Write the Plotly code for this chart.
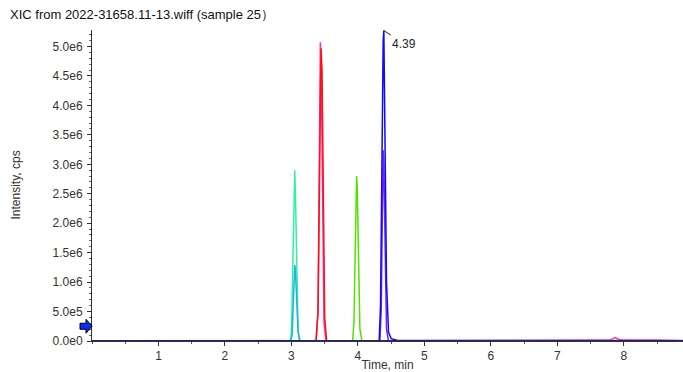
import plotly.graph_objects as go

title_text = "XIC from 2022-31658.11-13.wiff (sample 25）"

# Series: retention time (min) and intensity (cps)
yellow_t = [0.0, 1.0, 2.0, 2.9, 3.0]
yellow_i = [5000, 8000, 10000, 9000, 0]

spring_t = [0.0, 2.98, 3.00, 3.02, 3.04, 3.05, 3.06, 3.08, 3.10, 3.12, 8.89]
spring_i = [0, 0, 0.15e6, 1.2e6, 2.6e6, 2.9e6, 2.5e6, 1.0e6, 0.2e6, 0, 0]

sky_t = [0.0, 2.99, 3.01, 3.03, 3.05, 3.06, 3.08, 3.10, 3.13, 8.89]
sky_i = [0, 0, 0.1e6, 0.7e6, 1.29e6, 1.2e6, 0.6e6, 0.15e6, 0, 0]

pink_t = [0.0, 3.37, 3.40, 3.42, 3.435, 3.45, 3.47, 3.49, 3.52, 7.0, 7.80, 7.85, 7.87, 7.91, 7.97, 8.5, 8.89]
pink_i = [0, 0, 0.5e6, 3.3e6, 5.07e6, 4.5e6, 1.8e6, 0.3e6, 0, 8000, 15000, 50000, 60000, 35000, 18000, 15000, 10000]

red_t = [0.0, 3.37, 3.40, 3.43, 3.445, 3.46, 3.48, 3.50, 3.53, 8.89]
red_i = [0, 0, 0.5e6, 3.2e6, 4.97e6, 4.6e6, 2.0e6, 0.4e6, 0, 0]

green_t = [0.0, 3.92, 3.94, 3.96, 3.98, 3.99, 4.01, 4.03, 4.06, 8.89]
green_i = [0, 0, 0.3e6, 1.8e6, 2.8e6, 2.6e6, 1.2e6, 0.2e6, 0, 0]

blue_t = [0.0, 4.32, 4.34, 4.36, 4.38, 4.39, 4.41, 4.43, 4.46, 4.50, 4.60, 8.89]
blue_i = [0, 0, 0.6e6, 3.5e6, 5.1e6, 5.27e6, 3.6e6, 1.0e6, 0.15e6, 0.04e6, 0.01e6, 0.005e6]

purple_t = [0.0, 4.33, 4.35, 4.37, 4.38, 4.39, 4.41, 4.43, 4.46, 8.89]
purple_i = [0, 0, 0.5e6, 2.5e6, 3.24e6, 3.0e6, 1.2e6, 0.2e6, 0, 0]

navy_t = [0.0, 8.89]
navy_i = [0, 0]

y_tickvals = [0, 0.5e6, 1.0e6, 1.5e6, 2.0e6, 2.5e6, 3.0e6, 3.5e6, 4.0e6, 4.5e6, 5.0e6]
y_ticktext = ["0.0e0", "5.0e5", "1.0e6", "1.5e6", "2.0e6", "2.5e6", "3.0e6", "3.5e6", "4.0e6", "4.5e6", "5.0e6"]
x_tickvals = [1, 2, 3, 4, 5, 6, 7, 8]

peak_label_t = 4.39
peak_label_i = 5.27e6
marker_level = 0.25e6

series = [
    (yellow_t, yellow_i, "#e8c020"),
    (spring_t, spring_i, "#33f0a0"),
    (sky_t, sky_i, "#18b4e8"),
    (pink_t, pink_i, "#ff30c0"),
    (red_t, red_i, "#ff1010"),
    (green_t, green_i, "#55e000"),
    (purple_t, purple_i, "#7a20ff"),
    (blue_t, blue_i, "#0a0aff"),
    (navy_t, navy_i, "#1a2478"),
]

fig = go.Figure()
for t, i, c in series:
    fig.add_trace(go.Scatter(x=t, y=i, mode="lines",
                             line=dict(color=c, width=1.5 if c != "#1a2478" else 2.2),
                             showlegend=False, hoverinfo="skip"))

font = "Liberation Sans, Arial, sans-serif"

fig.update_layout(
    width=683, height=372,
    margin=dict(l=92, r=0, t=30, b=31, autoexpand=False),
    paper_bgcolor="white", plot_bgcolor="white",
    font=dict(family=font, size=12, color="#333333"),
    title=dict(text=title_text, x=10/683, xref="container", xanchor="left",
               y=1 - 14/372, yanchor="middle", font=dict(size=13, color="#111111")),
    xaxis=dict(range=[0, 8.89], tickvals=x_tickvals, ticks="outside", ticklen=4,
               tickcolor="#333", showline=True, linecolor="#333", linewidth=1,
               showgrid=False, zeroline=False, automargin=False,
               minor=dict(dtick=0.5, ticks="outside", ticklen=2, tickcolor="#555"),
               title=dict(text="Time, min", standoff=2, font=dict(size=12, color="#333"))),
    yaxis=dict(range=[0, 5.28e6], tickvals=y_tickvals, ticktext=y_ticktext,
               ticks="outside", ticklen=4, tickcolor="#333",
               showline=True, linecolor="#333", linewidth=1,
               showgrid=False, zeroline=False, automargin=False,
               minor=dict(dtick=1e5, ticks="outside", ticklen=2, tickcolor="#666"),
               ticklabelstandoff=2),
)

fig.add_annotation(text="Intensity, cps", xref="paper", yref="paper",
                   x=-77/591, y=0.5, xanchor="center", yanchor="middle",
                   textangle=-90, showarrow=False, font=dict(size=12, color="#333"))

fig.add_annotation(text="4.39", x=peak_label_t, y=peak_label_i, xref="x", yref="y",
                   showarrow=True, arrowhead=0, arrowwidth=1, arrowcolor="#222",
                   ax=20, ay=13, font=dict(size=12, color="#222"))

fig.add_shape(type="path", xref="paper", yref="y", xsizemode="pixel", ysizemode="pixel",
              xanchor=0, yanchor=marker_level,
              path="M -12,-3 L -6,-3 L -6,-7 L 0,0 L -6,7 L -6,3 L -12,3 Z",
              fillcolor="#0a2cff", line=dict(color="#000000", width=1), layer="above")

fig.write_html("out.html", config={"displayModeBar": False},
               post_script="document.body.style.margin='0';document.body.style.overflow='hidden';")
